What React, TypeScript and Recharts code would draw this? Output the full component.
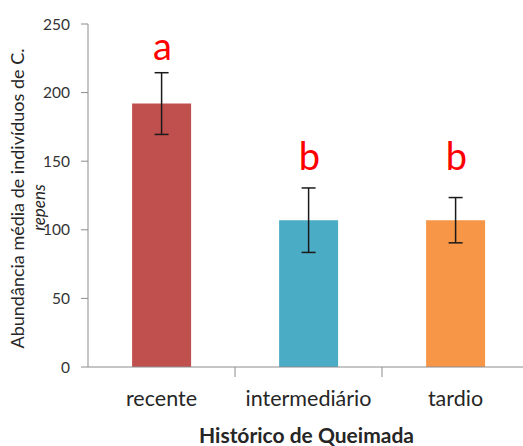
import React from "react";
import { ComposedChart, Bar, Cell, ErrorBar, Scatter, XAxis, YAxis } from "recharts";

const categories = ["recente", "intermediário", "tardio"];
const means = [192, 107, 107];
const errors = [22.5, 23.5, 16.5];
const letters = ["a", "b", "b"];
const letterAt = [224, 143.5, 143.5];
const yTicks = [0, 50, 100, 150, 200, 250];
const barColors = ["#c0504d", "#4bacc6", "#f79646"];

const data = categories.map((cat, i) => ({
  cat,
  mean: means[i],
  err: errors[i],
  letter: letters[i],
  letterAt: letterAt[i],
}));

const font = "Lato, 'Open Sans', sans-serif";
const axisGray = "#8c8c8c";
const X_TICK_MARGIN = 24;

// category labels plus the small tick marks between categories
function CatTick(props: any) {
  const { x, y, payload, index, width, visibleTicksCount } = props;
  const half = payload.offset || width / ((visibleTicksCount || 3) * 2);
  const axisY = y - X_TICK_MARGIN;
  return (
    <g>
      <text x={x} y={y} dy="0.71em" textAnchor="middle" fontSize={21.5} fontFamily={font} fill="#262626">
        {payload.value}
      </text>
      {index < categories.length - 1 && (
        <line x1={x + half} x2={x + half} y1={axisY} y2={axisY + 10} stroke={axisGray} strokeWidth={1} />
      )}
    </g>
  );
}

const renderXTitle = (props: any) => {
  const vb = props.viewBox;
  return (
    <text x={vb.x + vb.width / 2 - 2} y={vb.y + 76} textAnchor="middle" fontSize={21} fontWeight={700}
      fontFamily={font} fill="#262626">
      Histórico de Queimada
    </text>
  );
};

const renderYTitle = (props: any) => {
  const vb = props.viewBox;
  const cy = vb.y + vb.height / 2;
  return (
    <g>
      <text x={17} y={cy + 3} transform={`rotate(-90, 17, ${cy + 3})`} textAnchor="middle"
        dominantBaseline="central" fontSize={18} fontFamily={font} fill="#262626">
        Abundância média de indivíduos  de C.
      </text>
      <text x={38} y={cy + 12} transform={`rotate(-90, 38, ${cy + 12})`} textAnchor="middle"
        dominantBaseline="central" fontSize={17} fontStyle="italic" fontFamily={font} fill="#262626">
        repens
      </text>
    </g>
  );
};

const renderLetter = (props: any) => (
  <text x={props.cx + 1} y={props.cy} textAnchor="middle" fontSize={38} fontFamily={font} fill="#ff0000">
    {props.payload.letter}
  </text>
);

export default function App() {
  return (
    <div style={{ position: "absolute", left: 0, top: 0, width: 523, height: 446, overflow: "hidden", background: "#fff" }}>
      <ComposedChart width={529} height={446} data={data} margin={{ top: 24, right: 0, left: 0, bottom: 0 }}
        barCategoryGap="30%">
        <XAxis dataKey="cat" height={79} axisLine={{ stroke: axisGray }} tickLine={false} tickSize={0}
          tickMargin={X_TICK_MARGIN} tick={<CatTick />} interval={0} label={renderXTitle} />
        <YAxis width={88} domain={[0, 250]} ticks={yTicks} axisLine={{ stroke: axisGray }}
          tickLine={{ stroke: axisGray }} tickSize={7} tickMargin={11}
          tick={{ fontSize: 15.5, fontFamily: font, fill: "#333" }} label={renderYTitle} />
        <Bar dataKey="mean" isAnimationActive={false}>
          {data.map((_, i) => (
            <Cell key={i} fill={barColors[i]} />
          ))}
          <ErrorBar dataKey="err" width={7} stroke="#1a1a1a" strokeWidth={1.5} />
        </Bar>
        <Scatter dataKey="letterAt" isAnimationActive={false} shape={renderLetter} />
      </ComposedChart>
    </div>
  );
}
